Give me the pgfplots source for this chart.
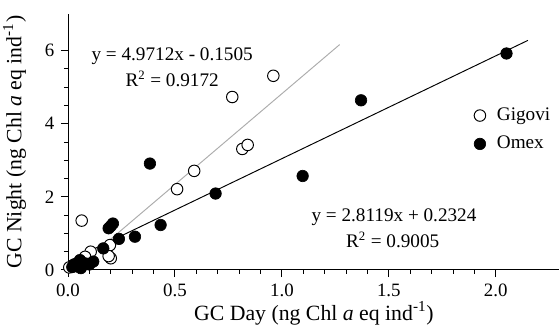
\documentclass[border=0pt]{standalone}
\usepackage{fontspec}
\setmainfont{Liberation Serif}
\usepackage{pgfplots}
\pgfplotsset{compat=1.18}
\begin{document}
\fontsize{12}{14}\selectfont
\begin{tikzpicture}
\begin{axis}[
  name=ax,
  scale only axis,
  width=307.5pt, height=160pt,
  xmin=0, xmax=2.3, ymin=0, ymax=7,
  axis x line=bottom, axis y line=left,
  axis line style={-, line width=0.6pt},
  tick align=outside,
  xtick={0,0.5,1,1.5,2}, minor x tick num=4,
  ytick={0,2,4,6}, minor y tick num=3,
  xticklabel style={/pgf/number format/.cd, fixed, fixed zerofill, precision=1},
  tick label style={font=\fontsize{11.8}{14}\selectfont},
  /pgf/number format/assume math mode=true,
  tick style={black, line width=0.6pt},
  major tick length=4.4pt, minor tick length=2.5pt,
  xlabel={GC Day (ng Chl \textit{a} eq ind\textsuperscript{-1})},
  ylabel={GC Night (ng Chl \textit{a} eq ind\textsuperscript{-1})},
  label style={font=\fontsize{13.6}{16}\selectfont},
  xlabel style={at={([yshift=-27.2pt]axis description cs:0.5,0)}, anchor=center},
  ylabel style={at={([xshift=-33.4pt]axis description cs:0,0.5)}, anchor=center},
  legend style={draw=none, fill=none, at={(axis cs:1.875,4.62)}, anchor=north west,
    row sep=4pt, font=\fontsize{12}{14}\selectfont},
  legend cell align=left,
  clip=false,
]
% regression lines
\addplot[gray!65, line width=0.6pt, forget plot] coordinates {(0.0303,0) (1.27,6.163)};
\addplot[black, line width=0.6pt, forget plot] coordinates {(0,0.2324) (2.15,6.278)};
% Gigovi
\addplot[only marks, mark=*, mark size=3.6pt, mark options={fill=white, draw=black, line width=0.6pt}] coordinates {
(0.064,1.35) (0.51,2.21) (0.59,2.71) (0.106,0.50) (0.196,0.68) (0.20,0.32) (0.19,0.38)
(0.006,0.07) (0.768,4.73) (0.96,5.31) (0.815,3.31) (0.84,3.42) (0.08,0.36) (0.03,0.15)
};
\addlegendentry{\hspace{5pt}Gigovi}
% Omex
\addplot[only marks, mark=*, mark size=3.6pt, mark options={fill=black, draw=black}] coordinates {
(0.383,2.91) (2.05,5.92) (1.37,4.64) (1.097,2.57) (0.69,2.09) (0.433,1.23) (0.313,0.91)
(0.238,0.85) (0.21,1.27) (0.19,1.14) (0.20,1.20) (0.165,0.59) (0.118,0.23) (0.08,0.18)
(0.056,0.27) (0.03,0.14) (0.04,0.10) (0.06,0.05) (0.10,0.15) (0.02,0.08) (0.05,0.20)
};
\addlegendentry{\hspace{5pt}Omex}
\node at (axis cs:0.487,5.84) {y = 4.9712x - 0.1505};
\node at (axis cs:0.487,5.22) {R\textsuperscript{2} = 0.9172};
\node at (axis cs:1.524,1.45) {y = 2.8119x + 0.2324};
\node at (axis cs:1.518,0.83) {R\textsuperscript{2} = 0.9005};
\end{axis}
\pgfresetboundingbox
\path ([xshift=-42.5pt,yshift=-35.6pt]ax.south west) rectangle ([xshift=-0.6pt,yshift=8.75pt]ax.north east);
\end{tikzpicture}
\end{document}
